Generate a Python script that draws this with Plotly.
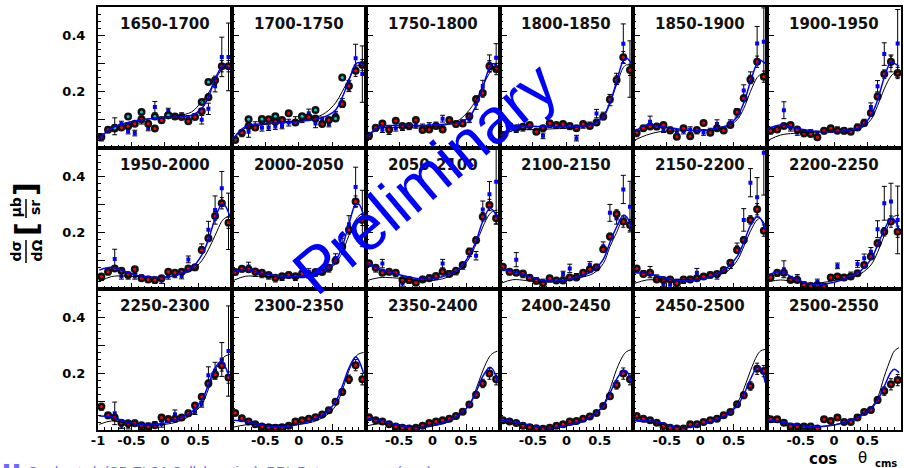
import plotly.graph_objects as go
from plotly.subplots import make_subplots

# ---------------- data ----------------
TITLES = ["1650-1700", "1700-1750", "1750-1800", "1800-1850", "1850-1900", "1900-1950",
          "1950-2000", "2000-2050", "2050-2100", "2100-2150", "2150-2200", "2200-2250",
          "2250-2300", "2300-2350", "2350-2400", "2400-2450", "2450-2500", "2500-2550"]

COS_BINS = [-0.95, -0.85, -0.75, -0.65, -0.55, -0.45, -0.35, -0.25, -0.15, -0.05,
            0.05, 0.15, 0.25, 0.35, 0.45, 0.55, 0.65, 0.75, 0.85, 0.95]
CURVE_X = [-0.98, -0.8, -0.6, -0.4, -0.2, 0.0, 0.2, 0.4, 0.55, 0.65, 0.75, 0.85, 0.9, 0.97]
RED_ERR = [0.006, 0.006, 0.006, 0.006, 0.006, 0.006, 0.006, 0.006, 0.006, 0.006,
           0.006, 0.006, 0.006, 0.006, 0.008, 0.01, 0.012, 0.015, 0.02, 0.02]

# cyan data set (first two bins only)
cyan_idx_01 = [2, 4, 6, 8, 10, 15, 16]
cyan_01 = [0.072, 0.112, 0.128, 0.112, 0.116, 0.163, 0.234]
cyan_idx_02 = [2, 4, 6, 10, 12, 15, 16]
cyan_02 = [0.102, 0.103, 0.113, 0.113, 0.135, 0.105, 0.250]

# red/black data points
red_01 = [0.039, 0.065, 0.069, 0.073, 0.077, 0.086, 0.102, 0.086, 0.069, 0.098, 0.116, 0.112, 0.110, 0.095, 0.110, 0.130, 0.180, 0.240, 0.290, 0.290]
red_02 = [0.028, 0.054, 0.078, 0.073, 0.099, 0.102, 0.093, 0.099, 0.123, 0.090, 0.111, 0.109, 0.105, 0.085, 0.099, 0.109, 0.156, 0.220, 0.274, 0.294]
red_03 = [0.043, 0.072, 0.087, 0.066, 0.097, 0.078, 0.078, 0.099, 0.064, 0.066, 0.078, 0.066, 0.099, 0.085, 0.087, 0.113, 0.173, 0.195, 0.290, 0.280]
red_04 = [0.046, 0.078, 0.070, 0.075, 0.082, 0.058, 0.070, 0.088, 0.082, 0.085, 0.078, 0.070, 0.085, 0.078, 0.090, 0.111, 0.172, 0.241, 0.322, 0.277]
red_05 = [0.054, 0.070, 0.076, 0.076, 0.082, 0.062, 0.040, 0.070, 0.042, 0.064, 0.089, 0.054, 0.070, 0.062, 0.082, 0.128, 0.176, 0.243, 0.306, 0.253]
red_06 = [0.061, 0.066, 0.078, 0.082, 0.066, 0.052, 0.050, 0.038, 0.061, 0.070, 0.061, 0.061, 0.058, 0.073, 0.089, 0.124, 0.183, 0.262, 0.306, 0.266]
red_07 = [0.044, 0.061, 0.073, 0.065, 0.050, 0.070, 0.038, 0.034, 0.032, 0.038, 0.061, 0.058, 0.061, 0.073, 0.077, 0.138, 0.180, 0.259, 0.304, 0.235]
red_08 = [0.060, 0.072, 0.070, 0.062, 0.058, 0.050, 0.040, 0.045, 0.050, 0.045, 0.055, 0.050, 0.060, 0.060, 0.075, 0.100, 0.150, 0.210, 0.310, 0.245]
red_09 = [0.091, 0.075, 0.058, 0.061, 0.058, 0.032, 0.032, 0.022, 0.034, 0.038, 0.046, 0.061, 0.053, 0.065, 0.085, 0.132, 0.173, 0.256, 0.298, 0.251]
red_10 = [0.079, 0.061, 0.058, 0.055, 0.040, 0.028, 0.020, 0.038, 0.030, 0.030, 0.041, 0.041, 0.058, 0.070, 0.077, 0.141, 0.186, 0.266, 0.239, 0.227]
red_11 = [0.073, 0.053, 0.058, 0.034, 0.032, 0.034, 0.020, 0.034, 0.034, 0.038, 0.044, 0.050, 0.053, 0.067, 0.093, 0.138, 0.174, 0.245, 0.283, 0.207]
red_12 = [0.041, 0.058, 0.058, 0.032, 0.032, 0.014, 0.011, 0.014, 0.008, 0.041, 0.044, 0.041, 0.044, 0.056, 0.085, 0.115, 0.162, 0.203, 0.239, 0.203]
red_13 = [0.083, 0.052, 0.044, 0.026, 0.024, 0.024, 0.017, 0.012, 0.017, 0.044, 0.038, 0.040, 0.044, 0.059, 0.087, 0.118, 0.165, 0.197, 0.229, 0.186]
red_14 = [0.060, 0.042, 0.030, 0.020, 0.012, 0.010, 0.008, 0.010, 0.015, 0.030, 0.035, 0.040, 0.045, 0.055, 0.070, 0.100, 0.135, 0.180, 0.230, 0.180]
red_15 = [0.045, 0.035, 0.030, 0.020, 0.012, 0.008, 0.005, 0.008, 0.015, 0.025, 0.030, 0.035, 0.040, 0.050, 0.065, 0.090, 0.125, 0.165, 0.200, 0.180]
red_16 = [0.035, 0.030, 0.025, 0.015, 0.010, 0.006, 0.004, 0.008, 0.015, 0.020, 0.030, 0.032, 0.040, 0.048, 0.060, 0.085, 0.120, 0.160, 0.200, 0.180]
red_17 = [0.050, 0.040, 0.035, 0.026, 0.014, 0.008, 0.005, 0.005, 0.020, 0.020, 0.028, 0.035, 0.040, 0.052, 0.064, 0.091, 0.123, 0.156, 0.217, 0.209]
red_18 = [0.038, 0.038, 0.026, 0.012, 0.012, 0.012, 0.012, 0.005, 0.038, 0.032, 0.044, 0.028, 0.028, 0.044, 0.064, 0.071, 0.106, 0.138, 0.162, 0.177]

# blue data points (first 13 bins) and their errors
bpt_01 = [0.035, 0.065, 0.077, 0.085, 0.060, 0.053, 0.095, 0.071, 0.145, 0.100, 0.131, 0.112, 0.115, 0.105, 0.112, 0.100, 0.139, 0.219, 0.323, 0.323]
berr_01 = [0.01, 0.01, 0.03, 0.01, 0.01, 0.01, 0.01, 0.01, 0.02, 0.01, 0.01, 0.01, 0.01, 0.01, 0.01, 0.015, 0.02, 0.02, 0.07, 0.12]
bpt_02 = [0.030, 0.050, 0.058, 0.078, 0.072, 0.072, 0.076, 0.078, 0.090, 0.096, 0.100, 0.123, 0.087, 0.100, 0.085, 0.120, 0.160, 0.220, 0.318, 0.262]
berr_02 = [0.01, 0.01, 0.02, 0.015, 0.012, 0.01, 0.01, 0.01, 0.012, 0.015, 0.01, 0.015, 0.015, 0.01, 0.01, 0.01, 0.015, 0.02, 0.05, 0.10]
bpt_03 = [0.040, 0.070, 0.065, 0.058, 0.070, 0.072, 0.075, 0.080, 0.075, 0.080, 0.082, 0.104, 0.095, 0.085, 0.090, 0.100, 0.157, 0.220, 0.300, 0.320]
berr_03 = [0.01, 0.01, 0.01, 0.01, 0.01, 0.01, 0.01, 0.01, 0.01, 0.01, 0.01, 0.012, 0.01, 0.01, 0.01, 0.01, 0.02, 0.02, 0.03, 0.05]
bpt_04 = [0.045, 0.070, 0.065, 0.070, 0.075, 0.060, 0.043, 0.085, 0.080, 0.080, 0.075, 0.035, 0.080, 0.082, 0.122, 0.115, 0.170, 0.245, 0.370, 0.280]
berr_04 = [0.01, 0.01, 0.01, 0.01, 0.01, 0.01, 0.01, 0.012, 0.01, 0.01, 0.01, 0.01, 0.01, 0.01, 0.015, 0.012, 0.02, 0.02, 0.07, 0.10]
bpt_05 = [0.050, 0.070, 0.093, 0.075, 0.065, 0.065, 0.055, 0.060, 0.065, 0.060, 0.055, 0.060, 0.085, 0.065, 0.090, 0.125, 0.204, 0.250, 0.371, 0.377]
berr_05 = [0.01, 0.01, 0.02, 0.01, 0.01, 0.01, 0.01, 0.01, 0.01, 0.01, 0.01, 0.01, 0.015, 0.01, 0.01, 0.015, 0.02, 0.02, 0.06, 0.12]
bpt_06 = [0.060, 0.065, 0.134, 0.070, 0.055, 0.050, 0.055, 0.050, 0.060, 0.065, 0.065, 0.060, 0.060, 0.075, 0.090, 0.145, 0.219, 0.333, 0.300, 0.371]
berr_06 = [0.01, 0.01, 0.03, 0.01, 0.01, 0.01, 0.01, 0.01, 0.01, 0.01, 0.01, 0.01, 0.01, 0.01, 0.012, 0.015, 0.02, 0.04, 0.03, 0.12]
bpt_07 = [0.040, 0.060, 0.106, 0.045, 0.045, 0.045, 0.040, 0.035, 0.030, 0.030, 0.045, 0.050, 0.046, 0.105, 0.075, 0.145, 0.210, 0.280, 0.357, 0.240]
berr_07 = [0.01, 0.01, 0.035, 0.01, 0.01, 0.01, 0.01, 0.01, 0.01, 0.01, 0.01, 0.01, 0.01, 0.012, 0.01, 0.015, 0.03, 0.05, 0.06, 0.10]
bpt_08 = [0.060, 0.070, 0.080, 0.055, 0.050, 0.045, 0.035, 0.040, 0.050, 0.040, 0.050, 0.060, 0.055, 0.065, 0.070, 0.110, 0.160, 0.230, 0.362, 0.250]
berr_08 = [0.01, 0.01, 0.015, 0.01, 0.01, 0.01, 0.01, 0.01, 0.01, 0.01, 0.01, 0.012, 0.01, 0.01, 0.01, 0.015, 0.02, 0.03, 0.07, 0.10]
bpt_09 = [0.090, 0.070, 0.090, 0.060, 0.055, 0.020, 0.030, 0.025, 0.035, 0.040, 0.045, 0.090, 0.055, 0.060, 0.080, 0.130, 0.118, 0.282, 0.336, 0.380]
berr_09 = [0.01, 0.01, 0.015, 0.01, 0.01, 0.01, 0.01, 0.01, 0.01, 0.01, 0.01, 0.015, 0.01, 0.01, 0.01, 0.015, 0.015, 0.03, 0.045, 0.15]
bpt_10 = [0.075, 0.060, 0.104, 0.050, 0.040, 0.030, 0.025, 0.035, 0.030, 0.053, 0.073, 0.045, 0.055, 0.085, 0.075, 0.152, 0.270, 0.250, 0.353, 0.292]
berr_10 = [0.01, 0.01, 0.025, 0.01, 0.01, 0.01, 0.01, 0.01, 0.01, 0.01, 0.015, 0.01, 0.01, 0.012, 0.01, 0.015, 0.03, 0.02, 0.05, 0.09]
bpt_11 = [0.070, 0.055, 0.060, 0.040, 0.018, 0.015, 0.025, 0.030, 0.035, 0.058, 0.045, 0.050, 0.045, 0.065, 0.085, 0.148, 0.245, 0.377, 0.325, 0.483]
berr_11 = [0.01, 0.01, 0.02, 0.01, 0.01, 0.01, 0.01, 0.01, 0.01, 0.015, 0.01, 0.01, 0.01, 0.01, 0.012, 0.015, 0.04, 0.05, 0.07, 0.15]
bpt_12 = [0.040, 0.055, 0.070, 0.035, 0.041, 0.015, 0.010, 0.025, 0.010, 0.040, 0.082, 0.040, 0.050, 0.089, 0.109, 0.132, 0.212, 0.304, 0.310, 0.245]
berr_12 = [0.01, 0.01, 0.03, 0.01, 0.01, 0.01, 0.01, 0.01, 0.01, 0.01, 0.01, 0.01, 0.01, 0.012, 0.015, 0.015, 0.03, 0.06, 0.065, 0.12]
bpt_13 = [0.080, 0.050, 0.059, 0.015, 0.014, 0.025, 0.012, 0.015, 0.020, 0.020, 0.040, 0.056, 0.045, 0.060, 0.065, 0.091, 0.194, 0.210, 0.250, 0.280]
berr_13 = [0.01, 0.01, 0.04, 0.01, 0.01, 0.01, 0.01, 0.01, 0.01, 0.01, 0.01, 0.015, 0.01, 0.01, 0.01, 0.01, 0.03, 0.03, 0.06, 0.16]

# model curves (black, blue) sampled at CURVE_X
blk_01 = [0.035, 0.070, 0.088, 0.098, 0.105, 0.110, 0.115, 0.128, 0.165, 0.195, 0.240, 0.280, 0.290, 0.278]
blu_01 = [0.033, 0.070, 0.087, 0.098, 0.104, 0.108, 0.110, 0.116, 0.140, 0.180, 0.245, 0.288, 0.293, 0.278]
blk_02 = [0.028, 0.071, 0.080, 0.087, 0.093, 0.097, 0.104, 0.125, 0.160, 0.200, 0.245, 0.285, 0.293, 0.290]
blu_02 = [0.034, 0.076, 0.085, 0.088, 0.090, 0.093, 0.100, 0.112, 0.135, 0.180, 0.240, 0.298, 0.303, 0.295]
blk_03 = [0.035, 0.070, 0.072, 0.073, 0.075, 0.077, 0.082, 0.100, 0.135, 0.170, 0.220, 0.265, 0.280, 0.275]
blu_03 = [0.040, 0.075, 0.080, 0.080, 0.080, 0.082, 0.085, 0.090, 0.110, 0.150, 0.215, 0.285, 0.300, 0.290]
blk_04 = [0.040, 0.062, 0.065, 0.066, 0.068, 0.070, 0.075, 0.088, 0.115, 0.160, 0.225, 0.285, 0.295, 0.290]
blu_04 = [0.045, 0.075, 0.078, 0.076, 0.075, 0.075, 0.077, 0.085, 0.110, 0.160, 0.235, 0.310, 0.318, 0.300]
blk_05 = [0.028, 0.046, 0.058, 0.060, 0.062, 0.062, 0.064, 0.076, 0.100, 0.140, 0.200, 0.250, 0.260, 0.263]
blu_05 = [0.058, 0.082, 0.076, 0.070, 0.064, 0.062, 0.068, 0.080, 0.110, 0.160, 0.235, 0.300, 0.310, 0.300]
blk_06 = [0.028, 0.046, 0.052, 0.055, 0.057, 0.058, 0.060, 0.070, 0.100, 0.150, 0.210, 0.255, 0.265, 0.270]
blu_06 = [0.070, 0.082, 0.072, 0.063, 0.058, 0.058, 0.062, 0.075, 0.115, 0.170, 0.250, 0.305, 0.300, 0.290]
blk_07 = [0.026, 0.044, 0.046, 0.044, 0.042, 0.042, 0.050, 0.066, 0.100, 0.140, 0.190, 0.240, 0.252, 0.259]
blu_07 = [0.067, 0.077, 0.062, 0.048, 0.042, 0.042, 0.052, 0.074, 0.120, 0.175, 0.250, 0.300, 0.295, 0.257]
blk_08 = [0.030, 0.045, 0.045, 0.043, 0.040, 0.040, 0.045, 0.060, 0.090, 0.130, 0.190, 0.245, 0.260, 0.270]
blu_08 = [0.060, 0.070, 0.058, 0.050, 0.045, 0.045, 0.050, 0.065, 0.100, 0.150, 0.230, 0.300, 0.300, 0.260]
blk_09 = [0.030, 0.040, 0.040, 0.036, 0.030, 0.030, 0.040, 0.065, 0.110, 0.160, 0.220, 0.265, 0.275, 0.280]
blu_09 = [0.093, 0.072, 0.058, 0.045, 0.036, 0.036, 0.048, 0.072, 0.120, 0.170, 0.240, 0.285, 0.280, 0.250]
blk_10 = [0.020, 0.033, 0.030, 0.025, 0.025, 0.030, 0.040, 0.055, 0.090, 0.150, 0.200, 0.250, 0.252, 0.235]
blu_10 = [0.070, 0.062, 0.048, 0.033, 0.028, 0.032, 0.045, 0.065, 0.105, 0.165, 0.220, 0.262, 0.255, 0.220]
blk_11 = [0.020, 0.032, 0.032, 0.033, 0.034, 0.036, 0.045, 0.062, 0.100, 0.150, 0.205, 0.245, 0.250, 0.227]
blu_11 = [0.058, 0.055, 0.044, 0.033, 0.030, 0.034, 0.048, 0.075, 0.115, 0.165, 0.225, 0.256, 0.250, 0.210]
blk_12 = [0.026, 0.032, 0.026, 0.020, 0.022, 0.030, 0.038, 0.055, 0.085, 0.130, 0.190, 0.245, 0.258, 0.262]
blu_12 = [0.050, 0.061, 0.038, 0.020, 0.016, 0.024, 0.040, 0.065, 0.105, 0.155, 0.210, 0.250, 0.245, 0.210]
blk_13 = [0.020, 0.032, 0.025, 0.020, 0.016, 0.020, 0.030, 0.055, 0.090, 0.145, 0.210, 0.250, 0.262, 0.268]
blu_13 = [0.050, 0.047, 0.030, 0.020, 0.018, 0.025, 0.040, 0.064, 0.105, 0.160, 0.220, 0.245, 0.225, 0.186]
blk_14 = [0.010, 0.018, 0.020, 0.018, 0.018, 0.020, 0.028, 0.050, 0.085, 0.140, 0.210, 0.260, 0.270, 0.275]
blu_14 = [0.035, 0.030, 0.020, 0.012, 0.012, 0.020, 0.035, 0.060, 0.100, 0.155, 0.220, 0.260, 0.245, 0.200]
blk_15 = [0.015, 0.022, 0.020, 0.014, 0.010, 0.015, 0.025, 0.050, 0.090, 0.145, 0.210, 0.260, 0.272, 0.280]
blu_15 = [0.040, 0.035, 0.022, 0.012, 0.008, 0.015, 0.030, 0.055, 0.090, 0.135, 0.190, 0.222, 0.215, 0.170]
blk_16 = [0.025, 0.024, 0.018, 0.010, 0.008, 0.015, 0.025, 0.050, 0.090, 0.145, 0.215, 0.265, 0.278, 0.285]
blu_16 = [0.035, 0.030, 0.020, 0.010, 0.008, 0.015, 0.028, 0.052, 0.085, 0.130, 0.180, 0.210, 0.208, 0.170]
blk_17 = [0.032, 0.028, 0.022, 0.012, 0.008, 0.020, 0.030, 0.055, 0.095, 0.145, 0.210, 0.265, 0.280, 0.286]
blu_17 = [0.035, 0.033, 0.027, 0.012, 0.008, 0.020, 0.033, 0.055, 0.085, 0.125, 0.180, 0.222, 0.220, 0.168]
blk_18 = [0.028, 0.026, 0.020, 0.012, 0.012, 0.018, 0.030, 0.055, 0.080, 0.115, 0.190, 0.255, 0.280, 0.292]
blu_18 = [0.035, 0.028, 0.020, 0.012, 0.012, 0.018, 0.030, 0.050, 0.075, 0.105, 0.155, 0.205, 0.215, 0.203]

RED = [red_01, red_02, red_03, red_04, red_05, red_06, red_07, red_08, red_09,
       red_10, red_11, red_12, red_13, red_14, red_15, red_16, red_17, red_18]
BLK = [blk_01, blk_02, blk_03, blk_04, blk_05, blk_06, blk_07, blk_08, blk_09,
       blk_10, blk_11, blk_12, blk_13, blk_14, blk_15, blk_16, blk_17, blk_18]
BLU = [blu_01, blu_02, blu_03, blu_04, blu_05, blu_06, blu_07, blu_08, blu_09,
       blu_10, blu_11, blu_12, blu_13, blu_14, blu_15, blu_16, blu_17, blu_18]
BPT = [bpt_01, bpt_02, bpt_03, bpt_04, bpt_05, bpt_06, bpt_07, bpt_08, bpt_09,
       bpt_10, bpt_11, bpt_12, bpt_13]
BERR = [berr_01, berr_02, berr_03, berr_04, berr_05, berr_06, berr_07, berr_08, berr_09,
        berr_10, berr_11, berr_12, berr_13]
CYAN = {0: (cyan_idx_01, cyan_01), 1: (cyan_idx_02, cyan_02)}

# ---------------- figure ----------------
W, H = 904, 468
ML, MR, MT, MB = 98, 3, 7, 38
PW, PH = W - ML - MR, H - MT - MB

fig = make_subplots(rows=3, cols=6, horizontal_spacing=0, vertical_spacing=0)

TICKFONT = dict(family="DejaVu Sans", size=13, color="black", weight="bold")

for i in range(18):
    r, c = i // 6 + 1, i % 6 + 1
    if i < len(BPT):
        fig.add_trace(go.Scatter(
            x=COS_BINS, y=BPT[i], mode="markers",
            marker=dict(symbol="square", size=4, color="#0000ff"),
            error_y=dict(type="data", array=BERR[i], color="black", thickness=1, width=2.5),
            showlegend=False, hoverinfo="skip"), row=r, col=c)
    fig.add_trace(go.Scatter(
        x=COS_BINS, y=RED[i], mode="markers",
        marker=dict(symbol="circle", size=8, color="#111111"),
        error_y=dict(type="data", array=RED_ERR, color="black", thickness=1, width=2),
        showlegend=False, hoverinfo="skip"), row=r, col=c)
    fig.add_trace(go.Scatter(
        x=COS_BINS, y=RED[i], mode="markers",
        marker=dict(symbol="circle", size=3, color="#ff0000"),
        showlegend=False, hoverinfo="skip"), row=r, col=c)
    if i in CYAN:
        idx, vals = CYAN[i]
        cx = [COS_BINS[k] for k in idx]
        fig.add_trace(go.Scatter(
            x=cx, y=vals, mode="markers",
            marker=dict(symbol="circle", size=8, color="#111111"),
            showlegend=False, hoverinfo="skip"), row=r, col=c)
        fig.add_trace(go.Scatter(
            x=cx, y=vals, mode="markers",
            marker=dict(symbol="circle", size=3, color="#00d0d0"),
            showlegend=False, hoverinfo="skip"), row=r, col=c)
    fig.add_trace(go.Scatter(
        x=CURVE_X, y=BLK[i], mode="lines",
        line=dict(color="black", width=1, shape="spline", smoothing=1.0),
        showlegend=False, hoverinfo="skip"), row=r, col=c)
    fig.add_trace(go.Scatter(
        x=CURVE_X, y=BLU[i], mode="lines",
        line=dict(color="#0000ff", width=1.5, shape="spline", smoothing=1.0),
        showlegend=False, hoverinfo="skip"), row=r, col=c)

    # x axis
    if c == 1:
        xt = ["-1", "-0.5", "0", "0.5", ""]
    elif c == 6:
        xt = ["", "-0.5", "0", "0.5", "1"]
    else:
        xt = ["", "-0.5", "0", "0.5", ""]
    fig.update_xaxes(
        range=[-1, 1], showgrid=False, zeroline=False, automargin=False,
        showline=True, linecolor="black", linewidth=2, mirror=True,
        ticks="inside", ticklen=6, tickwidth=1, tickcolor="black",
        tickmode="array", tickvals=[-1, -0.5, 0, 0.5, 1], ticktext=xt,
        showticklabels=(r == 3), tickfont=TICKFONT, ticklabelstandoff=-3,
        minor=dict(dtick=0.1, tick0=0, ticks="inside", ticklen=3, tickcolor="black", showgrid=False),
        row=r, col=c)
    fig.update_yaxes(
        range=[0, 0.5], showgrid=False, zeroline=False, automargin=False,
        showline=True, linecolor="black", linewidth=2, mirror=True,
        ticks="inside", ticklen=7, tickwidth=1, tickcolor="black",
        tickmode="array", tickvals=[0.1, 0.2, 0.3, 0.4], ticktext=["", "0.2", "", "0.4"],
        showticklabels=(c == 1), tickfont=TICKFONT, ticklabelstandoff=8,
        minor=dict(dtick=0.025, tick0=0, ticks="inside", ticklen=3, tickcolor="black", showgrid=False),
        row=r, col=c)

    ax = "" if i == 0 else str(i + 1)
    fig.add_annotation(
        x=0.5, y=1 - 17 / 141, xref=f"x{ax} domain", yref=f"y{ax} domain",
        text=TITLES[i], showarrow=False, xanchor="center", yanchor="middle",
        font=dict(family="DejaVu Sans", size=15, color="#111111", weight="bold"))


def px(xp):
    return (xp - ML) / PW


def py(yp):
    return (MT + PH - yp) / PH


# y-axis title: d sigma / d Omega [ mu b / sr ]
for txt, xx, yy, sz in [("dσ", 15.5, 251, 14), ("dΩ", 36.5, 251, 14),
                        ("μb", 15.5, 208, 14), ("sr", 35, 208, 14)]:
    fig.add_annotation(x=px(xx), y=py(yy), xref="paper", yref="paper", text=txt,
                       textangle=-90, showarrow=False, xanchor="center", yanchor="middle",
                       font=dict(family="DejaVu Sans", size=sz, color="black", weight="bold"))
for txt, yy in [("[", 229), ("]", 189)]:
    fig.add_annotation(x=px(26), y=py(yy), xref="paper", yref="paper", text=txt,
                       textangle=-90, showarrow=False, xanchor="center", yanchor="middle",
                       font=dict(family="DejaVu Sans", size=30, color="black", weight="bold"))
fig.add_shape(type="line", xref="paper", yref="paper", x0=px(26), x1=px(26),
              y0=py(240), y1=py(263), line=dict(color="black", width=1.5))
fig.add_shape(type="line", xref="paper", yref="paper", x0=px(26), x1=px(26),
              y0=py(199), y1=py(218), line=dict(color="black", width=1.5))

# x-axis title: cos theta_cms
fig.add_annotation(x=px(823), y=py(459), xref="paper", yref="paper", text="cos",
                   showarrow=False, xanchor="center", yanchor="middle",
                   font=dict(family="DejaVu Sans", size=15, color="black", weight="bold"))
fig.add_annotation(x=px(862), y=py(458), xref="paper", yref="paper", text="θ",
                   showarrow=False, xanchor="center", yanchor="middle",
                   font=dict(family="DejaVu Sans", size=15, color="black"))
fig.add_annotation(x=px(886), y=py(463), xref="paper", yref="paper", text="cms",
                   showarrow=False, xanchor="center", yanchor="middle",
                   font=dict(family="DejaVu Sans", size=10, color="black", weight="bold"))

# reference line at the bottom (cut by the page edge)
fig.add_annotation(x=px(2), y=py(461.5), xref="paper", yref="paper",
                   text="▌▌ Crede et al. (CB-ELSA Collaboration), PRL Data     ........     (new)",
                   showarrow=False, xanchor="left", yanchor="top",
                   font=dict(family="Liberation Sans", size=14, color="#6a6aff"))

# watermark
fig.add_annotation(x=px(425), y=py(178), xref="paper", yref="paper",
                   text="Preliminary", showarrow=False, textangle=-40,
                   xanchor="center", yanchor="middle",
                   font=dict(family="Liberation Sans", size=64, color="#0000ff"))

fig.update_layout(
    width=W, height=H, margin=dict(l=ML, r=MR, t=MT, b=MB),
    paper_bgcolor="white", plot_bgcolor="white", showlegend=False)

fig.write_html("out.html", config={"displayModeBar": False},
               post_script="document.body.style.margin='0px';document.body.style.overflow='hidden';")
